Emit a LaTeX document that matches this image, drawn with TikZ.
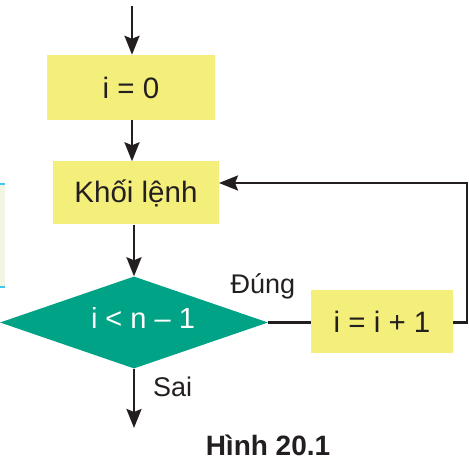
\documentclass[tikz,border=0pt]{standalone}
\usepackage{fontspec}
\setmainfont{Liberation Sans}
\usetikzlibrary{shapes.geometric,arrows.meta}
\definecolor{boxyellow}{HTML}{F4EE7B}
\definecolor{teal}{HTML}{00A386}
\definecolor{ink}{HTML}{231F20}
\definecolor{paleg}{HTML}{F1F5E1}
\definecolor{cyanl}{HTML}{3CC8F0}
\tikzset{
  procbox/.style={fill=boxyellow, draw=none, inner sep=0pt, text=ink,
    font=\fontsize{29.5}{33}\selectfont},
  decbox/.style={diamond, shape aspect=2.9, fill=teal, draw=none, inner sep=0pt},
  dectext/.style={text=white, inner sep=0pt, font=\fontsize{29}{33}\selectfont},
  flow/.style={line width=2.6pt, draw=ink, -{Stealth[length=19pt,width=15pt,inset=3pt]}},
  plain/.style={line width=2.6pt, draw=ink},
  lbl/.style={text=ink, inner sep=0pt, font=\fontsize{27}{30}\selectfont}
}
\begin{document}
\begin{tikzpicture}[x=1pt,y=-1pt]
\useasboundingbox (0,0) rectangle (469,462);
% partial panel at left edge
\fill[paleg] (-1,184) rectangle (5,287);
\draw[cyanl, line width=1.6pt] (-1,184) -- (5,184);
\draw[cyanl, line width=1.6pt] (-1,287) -- (5,287);
% nodes
\coordinate (start) at (132,6);
\node[procbox, minimum width=168pt, minimum height=65pt] (i0) at (131,87.5) {i = 0};
\node[procbox, minimum width=166pt, minimum height=63pt] (khoi) at (136,193) {Khối lệnh};
\node[decbox, minimum width=268pt, minimum height=92pt] (cond) at (134,322.5) {};
\node[dectext] (condtxt) at (143,318) {i < n – 1};
\node[procbox, minimum width=142pt, minimum height=63pt] (inc) at (382,322) {i = i + 1};
\coordinate (corner1) at (467,322.5);
\coordinate (corner2) at (467,183);
\coordinate (back) at (219,183);
\coordinate (out) at (134,428);
% connectors
\draw[flow] (start) -- (start |- i0.north);
\draw[flow] (i0.south -| start) -- (khoi.north -| start);
\draw[flow] (cond.north |- khoi.south) -- (cond.north);
\draw[plain] (cond.east) -- (inc.west |- cond.east);
\draw[flow] (inc.east |- cond.east) -- (corner1) -- (corner2) -- (back);
\draw[flow] (cond.south) -- (out);
% labels
\node[lbl, anchor=base] (dung) at (263,294) {Đúng};
\node[lbl, anchor=base west] (sai) at (153,397) {Sai};
\node[text=ink, inner sep=0pt, anchor=base, font=\fontsize{28}{30}\selectfont\bfseries] (cap) at (268,456) {Hình 20.1};
\end{tikzpicture}
\end{document}
